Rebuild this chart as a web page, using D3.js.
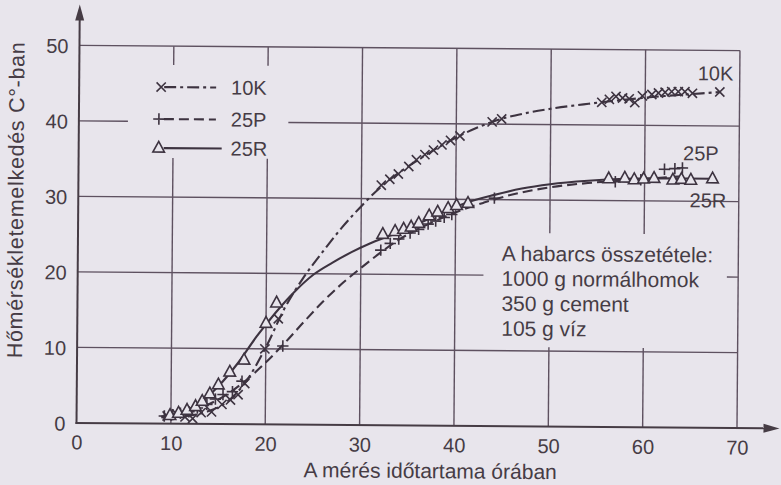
<!DOCTYPE html>
<html>
<head>
<meta charset="utf-8">
<script src="https://cdn.jsdelivr.net/npm/d3@7"></script>
<style>
  html, body { margin: 0; padding: 0; background: #e8e5ec; }
  svg { display: block; }
  text { font-family: "Liberation Sans", Arial, Helvetica, sans-serif; fill: #463c45; }
</style>
</head>
<body>
<svg id="chart" width="781" height="485"></svg>
<script>
// Axis ticks
const xTicks = [0, 10, 20, 30, 40, 50, 60, 70];
const yTicks = [0, 10, 20, 30, 40, 50];

// Series names
const seriesNames = ["10K", "25P", "25R"];

// Measured points [hours, °C] for each mortar
const marks10K = [
  [9.6, 1.0], [10.6, 1.3], [11.5, 0.9], [12.3, 0.7], [13.2, 1.5], [14.3, 1.6],
  [15.4, 2.6], [16.3, 3.2], [17.1, 3.9], [17.8, 5.4], [19.9, 10.0], [21.3, 14.0],
  [32.1, 31.8], [33.0, 32.6], [33.9, 33.3], [35.0, 34.3], [35.8, 35.2], [36.7, 35.9],
  [37.6, 36.5], [38.5, 37.2], [39.4, 37.8], [40.4, 38.4], [43.8, 40.3], [44.8, 40.7],
  [55.4, 43.0], [56.2, 43.4], [56.9, 43.8], [57.6, 43.6], [58.3, 43.5], [58.9, 43.0],
  [59.7, 43.9], [60.7, 44.1], [61.4, 44.3], [62.1, 44.4], [62.8, 44.5], [63.5, 44.5],
  [64.2, 44.5], [65.0, 44.3], [67.9, 44.5]
];
const marks25P = [
  [9.3, 1.0], [10.2, 1.2], [11.0, 1.4], [11.9, 1.6], [12.8, 2.1], [13.8, 2.6],
  [14.7, 3.3], [15.5, 3.9], [16.5, 4.3], [17.5, 5.7], [21.8, 10.4],
  [32.1, 23.2], [33.1, 24.1], [34.0, 24.7], [35.2, 25.5], [36.1, 26.0], [37.1, 26.7],
  [37.9, 27.1], [38.8, 27.6], [39.6, 28.0], [44.1, 30.2],
  [56.9, 32.5], [59.6, 32.8], [62.1, 34.2], [63.2, 34.3], [64.0, 34.4]
];
const marks25R = [
  [9.9, 1.1], [10.8, 1.4], [11.7, 1.8], [12.6, 2.3], [13.3, 3.0], [14.1, 4.0],
  [15.0, 5.2], [16.2, 6.9], [17.7, 8.5], [20.0, 13.4], [21.1, 16.1],
  [32.3, 25.3], [33.6, 25.7], [34.5, 26.0], [35.3, 26.3], [36.1, 26.8], [37.2, 27.8],
  [38.1, 28.3], [39.2, 28.8], [40.1, 29.2], [41.3, 29.5],
  [56.2, 32.9], [57.9, 33.0], [58.9, 32.8], [59.9, 32.9], [61.0, 33.0], [63.0, 32.8],
  [63.9, 32.9], [64.9, 32.8], [67.2, 33.0]
];

// Fitted curves [hours, °C]
const curve10K = [
  [9, 0.8], [12, 1.1], [14, 1.7], [16, 3.0], [18, 5.8], [20, 10.2], [22, 15.5],
  [24, 19.6], [26, 23.0], [28, 26.2], [30, 29.0], [32, 31.5], [34, 33.5], [36, 35.2],
  [38, 36.8], [40, 38.2], [42, 39.4], [44, 40.4], [47, 41.4], [50, 42.1], [54, 42.8],
  [58, 43.4], [62, 43.9], [66, 44.3], [68, 44.5]
];
const curve25P = [
  [9, 0.9], [12, 1.6], [14, 2.6], [16, 4.0], [18, 5.9], [20, 8.2], [22, 10.8],
  [24, 13.6], [26, 16.3], [28, 18.7], [30, 20.8], [32, 22.8], [34, 24.6], [36, 26.0],
  [38, 27.2], [40, 28.3], [43, 29.6], [46, 30.7], [50, 31.7], [54, 32.3], [58, 32.7],
  [62, 33.1], [64, 33.3]
];
const curve25R = [
  [9, 0.9], [11, 1.5], [13, 2.7], [15, 5.0], [17, 8.0], [19, 11.6], [21, 14.8],
  [23, 17.6], [25, 19.9], [27, 21.5], [29, 22.9], [31, 24.1], [33, 25.1], [35, 26.1],
  [37, 27.3], [39, 28.5], [41, 29.5], [44, 30.6], [47, 31.5], [50, 32.1], [54, 32.6],
  [58, 32.9], [62, 33.0], [67, 33.0]
];

// Mortar composition note
const noteLines = [
  "A habarcs összetétele:",
  "1000 g normálhomok",
  "350 g cement",
  "105 g víz"
];

const xTitle = "A mérés időtartama órában";
const yTitle = "Hőmérsékletemelkedés C°-ban";

// ---------------------------------------------------------------
const ink = "#463c45";
const gridInk = "#5e5160";
const bg = "#e8e5ec";

const svg = d3.select("#chart");
svg.append("rect").attr("width", 781).attr("height", 485).attr("fill", bg);

// whole drawing sits with a very slight clockwise tilt
const g = svg.append("g").attr("transform", "rotate(0.45 408 235)");

const x = d3.scaleLinear().domain([0, 70]).range([78, 738.5]);
const y = d3.scaleLinear().domain([0, 50]).range([425.5, 48]);

// ---- grid (with gaps where the legend and note sit)
const grid = g.append("g").attr("stroke", gridInk).attr("stroke-width", 1.4).attr("fill", "none");
function hSeg(v, a, b) {
  grid.append("line").attr("x1", x(a)).attr("x2", x(b)).attr("y1", y(v)).attr("y2", y(v));
}
function vSeg(v, a, b) {
  grid.append("line").attr("x1", x(v)).attr("x2", x(v)).attr("y1", y(a)).attr("y2", y(b));
}
yTicks.filter(t => t > 0).forEach(t => {
  if (t === 40) { hSeg(t, 0, 5.2); hSeg(t, 22.2, 70); }
  else if (t === 20) { hSeg(t, 0, 43.0); hSeg(t, 68.8, 70); }
  else hSeg(t, 0, 70);
});
xTicks.filter(t => t > 0).forEach(t => {
  if (t === 10 || t === 20) { vSeg(t, 50, 47.5); vSeg(t, 35.2, 0); }
  else if (t === 50 || t === 60) { vSeg(t, 50, 25.6); vSeg(t, 10.5, 0); }
  else vSeg(t, 50, 0);
});

// ---- axes with arrows
const axes = g.append("g").attr("stroke", ink).attr("stroke-width", 2).attr("fill", "none");
axes.append("line").attr("x1", x(0)).attr("x2", x(0)).attr("y1", y(0) + 1).attr("y2", 20);
axes.append("line").attr("x1", x(0) - 1).attr("x2", 768).attr("y1", y(0)).attr("y2", y(0));
g.append("path").attr("fill", ink)
  .attr("d", `M${x(0)},7 L${x(0) - 4.5},23 L${x(0) + 4.5},23 Z`);
g.append("path").attr("fill", ink)
  .attr("d", `M781,${y(0)} L765,${y(0) - 4.5} L765,${y(0) + 4.5} Z`);

// ---- tick labels
const fs = "20px";
const xAxis = g.append("g").attr("transform", `translate(0,${y(0)})`)
  .call(d3.axisBottom(x).tickValues(xTicks).tickSize(0).tickPadding(12.3));
const yAxis = g.append("g").attr("transform", `translate(${x(0)},0)`)
  .call(d3.axisLeft(y).tickValues(yTicks).tickSize(0).tickPadding(11));
[xAxis, yAxis].forEach(a => {
  a.select(".domain").remove();
  a.selectAll("text").attr("font-size", fs).attr("fill", ink)
    .attr("font-family", '"Liberation Sans", Arial, sans-serif');
});
yAxis.selectAll("text").attr("dy", "0.36em");

// ---- axis titles
g.append("text").attr("x", 432).attr("y", 478).attr("text-anchor", "middle")
  .attr("font-size", "21px").text(xTitle);
g.append("text").attr("transform", "translate(23,203) rotate(-90)")
  .attr("text-anchor", "middle").attr("font-size", "21.5px")
  .attr("letter-spacing", "0.7px").text(yTitle);

// ---- markers
function crossPath(s) { return `M${-s},${-s}L${s},${s}M${-s},${s}L${s},${-s}`; }
function plusPath(s) { return `M${-s},0L${s},0M0,${-s}L0,${s}`; }
function triPath(s) { return `M0,${-s * 1.15}L${s},${s * 0.7}L${-s},${s * 0.7}Z`; }

const styles = {
  "10K": { dash: "12,4,3,4", mark: crossPath(4.6), fill: "none" },
  "25P": { dash: "10,5", mark: plusPath(5.7), fill: "none" },
  "25R": { dash: null, mark: triPath(5.8), fill: bg }
};
const seriesData = {
  "10K": { curve: curve10K, marks: marks10K },
  "25P": { curve: curve25P, marks: marks25P },
  "25R": { curve: curve25R, marks: marks25R }
};

const line = d3.line().x(d => x(d[0])).y(d => y(d[1])).curve(d3.curveMonotoneX);
const dataInk = "#3d3340";

seriesNames.forEach(name => {
  const st = styles[name];
  const sd = seriesData[name];
  g.append("path").datum(sd.curve)
    .attr("d", line).attr("fill", "none").attr("stroke", dataInk)
    .attr("stroke-width", 2.1).attr("stroke-dasharray", st.dash);
});
seriesNames.forEach(name => {
  const st = styles[name];
  const sd = seriesData[name];
  g.append("g").selectAll("path").data(sd.marks).join("path")
    .attr("transform", d => `translate(${x(d[0])},${y(d[1])})`)
    .attr("d", st.mark).attr("fill", st.fill).attr("stroke", dataInk)
    .attr("stroke-width", 1.6);
});

// ---- legend
const legendRows = [89, 121, 150];
const legend = g.append("g");
seriesNames.forEach((name, i) => {
  const st = styles[name];
  const ly = legendRows[i];
  legend.append("line").attr("x1", 163).attr("x2", name === "25R" ? 221 : 215)
    .attr("y1", ly).attr("y2", ly).attr("stroke", dataInk).attr("stroke-width", 2.1)
    .attr("stroke-dasharray", st.dash);
  legend.append("path").attr("transform", `translate(${name === "10K" ? 160 : 158},${ly})`)
    .attr("d", st.mark).attr("fill", st.fill).attr("stroke", dataInk).attr("stroke-width", 1.6);
  legend.append("text").attr("x", 230).attr("y", ly + 7).attr("font-size", fs).text(name);
});

// ---- curve end labels
const endLabels = [
  { name: "10K", x: 732, y: 78 },
  { name: "25P", x: 718, y: 158 },
  { name: "25R", x: 726, y: 205 }
];
g.append("g").selectAll("text").data(endLabels).join("text")
  .attr("x", d => d.x).attr("y", d => d.y).attr("text-anchor", "end")
  .attr("font-size", fs).text(d => d.name);

// ---- composition note
g.append("g").selectAll("text").data(noteLines).join("text")
  .attr("x", 502).attr("y", (d, i) => 260 + i * 25)
  .attr("font-size", "21px").text(d => d);
</script>
</body>
</html>
